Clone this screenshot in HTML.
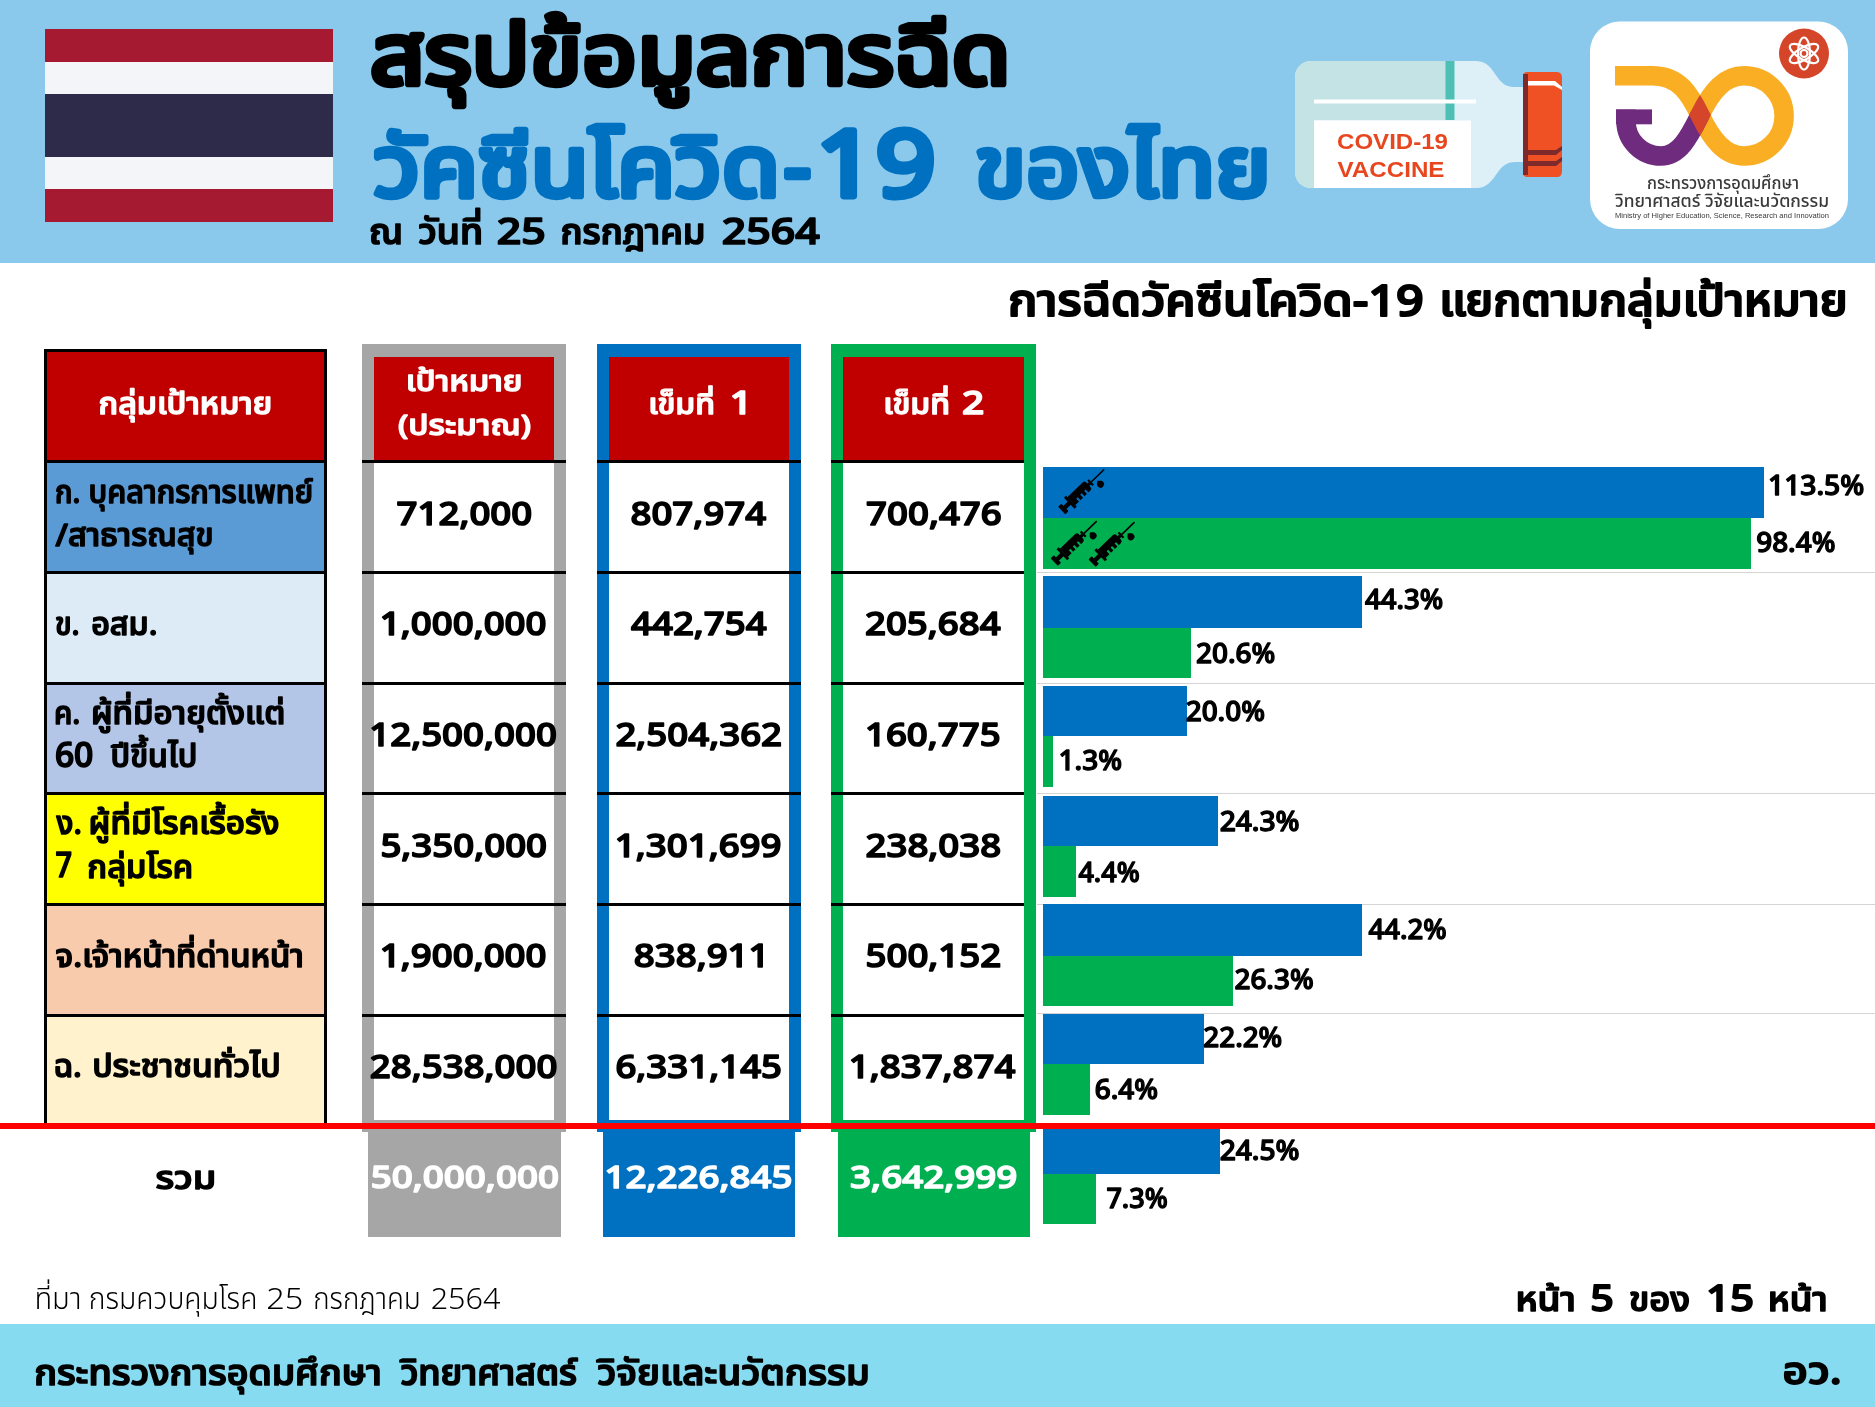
<!DOCTYPE html>
<html lang="th"><head><meta charset="utf-8"><title>สรุปข้อมูลการฉีดวัคซีนโควิด-19 ของไทย</title>
<style>
html,body{margin:0;padding:0;background:#fff}
body{width:1875px;height:1407px;position:relative;overflow:hidden;font-family:'Noto Sans Thai','Noto Sans Thai UI','Anuphan','Loma','Garuda','Liberation Sans','DejaVu Sans',sans-serif}
.b{position:absolute}
svg{will-change:transform}
.t{position:absolute;white-space:nowrap;transform-origin:0 0}
</style></head><body>
<div class="b" style="left:0;top:1324px;width:1875px;height:83px;background:#86DBF0"></div>

<div class="b" style="left:0px;top:0px;width:1875px;height:263px;background:#8AC9EC;"></div>
<div class="b" style="left:45px;top:29px;width:288px;height:32.5px;background:#A51931;"></div>
<div class="b" style="left:45px;top:61.5px;width:288px;height:32.0px;background:#F4F5F8;"></div>
<div class="b" style="left:45px;top:93.5px;width:288px;height:63.5px;background:#2D2A4A;"></div>
<div class="b" style="left:45px;top:157px;width:288px;height:32px;background:#F4F5F8;"></div>
<div class="b" style="left:45px;top:189px;width:288px;height:32.5px;background:#A51931;"></div>
<svg class="b" style="left:0;top:0" width="1875" height="263" viewBox="0 0 1875 263">
<path d="M1311 61 H1476 C1488 61 1492 70 1498 78 C1503 85 1508 87 1515 87 H1525 V162 H1515 C1508 162 1503 165 1498 172 C1492 180 1488 188 1476 188 H1311 C1302 188 1295 181 1295 172 V77 C1295 68 1302 61 1311 61 Z" fill="#DDF0F8"/>
<path d="M1311 61 H1446 V120 H1314 V188 H1311 C1302 188 1295 181 1295 172 V77 C1295 68 1302 61 1311 61 Z" fill="#C3E3E5"/>
<rect x="1445.5" y="61" width="9" height="59" fill="#4DBFB5"/>
<rect x="1314" y="99.5" width="162" height="4" fill="#fff"/>
<rect x="1314" y="120.5" width="157" height="67.5" fill="#fff"/>
<text x="1392.5" y="148.5" text-anchor="middle" font-family="'Liberation Sans',sans-serif" font-weight="700" font-size="22" fill="#E8461E" textLength="111" lengthAdjust="spacingAndGlyphs">COVID-19</text>
<text x="1391" y="176.5" text-anchor="middle" font-family="'Liberation Sans',sans-serif" font-weight="700" font-size="22" fill="#E8461E" textLength="107" lengthAdjust="spacingAndGlyphs">VACCINE</text>
<path d="M1527 72 H1557 Q1562 72 1562 78 V171 Q1562 177 1557 177 H1527 Q1523 177 1523 172 V77 Q1523 72 1527 72 Z" fill="#EF5125"/>
<rect x="1523" y="74" width="5" height="101" fill="#7F2A2A"/>
<path d="M1528 81 H1555 L1562 87 V90 L1554 85.5 H1528 Z" fill="#fff"/>
<path d="M1528 150 H1556 L1562 146 V150 L1556 155 H1528 Z" fill="#7F2A2A"/>
<path d="M1528 161 H1556 L1562 157 V161 L1556 166 H1528 Z" fill="#7F2A2A"/>
</svg>
<svg class="b" style="left:0;top:0" width="1875" height="263" viewBox="0 0 1875 263">
<rect x="1590" y="21.5" width="258" height="207.5" rx="30" fill="#fff"/>
<defs><mask id="lm" maskUnits="userSpaceOnUse" x="1590" y="20" width="260" height="210"><path d="M1652 75.8 C1680 75.8 1690 95 1700 115 C1712 140 1725 156 1744 156" fill="none" stroke="#fff" stroke-width="19.5"/></mask></defs>
<path d="M1615 75.8 H1652 C1680 75.8 1690 95 1700 115 C1712 140 1725 156 1744 156 A40.1 40.1 0 0 0 1744 75.8 C1725 75.8 1712 90 1700 115" fill="none" stroke="#F9AE24" stroke-width="19.5"/>
<path d="M1700 115 C1690 135 1680 156 1661 156 A35 35 0 0 1 1626 121 V109.4" fill="none" stroke="#6F2C7F" stroke-width="19.5"/>
<rect x="1616" y="109.4" width="36" height="14.9" fill="#6F2C7F"/>
<path d="M1744 75.8 C1725 75.8 1712 90 1700 115 C1690 135 1680 156 1661 156" fill="none" stroke="#D5452A" stroke-width="19.5" mask="url(#lm)"/>
<circle cx="1804" cy="53.5" r="25" fill="#D5452A"/>
<g fill="none" stroke="#fff" stroke-width="2.2">
<ellipse cx="1804" cy="53.5" rx="16" ry="6" transform="rotate(90 1804 53.5)"/>
<ellipse cx="1804" cy="53.5" rx="16" ry="6" transform="rotate(30 1804 53.5)"/>
<ellipse cx="1804" cy="53.5" rx="16" ry="6" transform="rotate(150 1804 53.5)"/>
<circle cx="1804" cy="53.5" r="3.5"/>
</g>
<text x="1723" y="189" text-anchor="middle" font-family="'Noto Sans Thai',sans-serif" font-weight="500" font-size="17" fill="#3a3a3a" textLength="152" lengthAdjust="spacingAndGlyphs">กระทรวงการอุดมศึกษา</text>
<text x="1722" y="206.5" text-anchor="middle" font-family="'Noto Sans Thai',sans-serif" font-weight="500" font-size="17" fill="#3a3a3a" textLength="214" lengthAdjust="spacingAndGlyphs">วิทยาศาสตร์ วิจัยและนวัตกรรม</text>
<text x="1722" y="217.5" text-anchor="middle" font-family="'Liberation Sans',sans-serif" font-size="7.5" fill="#3a3a3a" textLength="214" lengthAdjust="spacingAndGlyphs">Ministry of Higher Education, Science, Research and Innovation</text>
</svg>
<div class="b" style="left:44px;top:349px;width:283px;height:777px;background:#000;"></div>
<div class="b" style="left:47px;top:352px;width:277px;height:108px;background:#C00000;"></div>
<div class="b" style="left:47px;top:463px;width:277px;height:108px;background:#5B9BD5;"></div>
<div class="b" style="left:47px;top:574px;width:277px;height:107.5px;background:#DDEBF7;"></div>
<div class="b" style="left:47px;top:684.5px;width:277px;height:107.5px;background:#B4C6E7;"></div>
<div class="b" style="left:47px;top:795px;width:277px;height:108px;background:#FFFF00;"></div>
<div class="b" style="left:47px;top:906px;width:277px;height:107.5px;background:#F8CBAD;"></div>
<div class="b" style="left:47px;top:1016.5px;width:277px;height:109.5px;background:#FFF2CC;"></div>
<div class="b" style="left:362px;top:344px;width:204px;height:788px;background:#A6A6A6;"></div>
<div class="b" style="left:374px;top:357px;width:180px;height:763px;background:#fff;"></div>
<div class="b" style="left:374px;top:357px;width:180px;height:103px;background:#C00000;"></div>
<div class="b" style="left:362px;top:460px;width:204px;height:3px;background:#000;"></div>
<div class="b" style="left:362px;top:571px;width:204px;height:3px;background:#000;"></div>
<div class="b" style="left:362px;top:681.5px;width:204px;height:3.0px;background:#000;"></div>
<div class="b" style="left:362px;top:792px;width:204px;height:3px;background:#000;"></div>
<div class="b" style="left:362px;top:903px;width:204px;height:3px;background:#000;"></div>
<div class="b" style="left:362px;top:1013.5px;width:204px;height:3.0px;background:#000;"></div>
<div class="b" style="left:597px;top:344px;width:204px;height:788px;background:#0070C0;"></div>
<div class="b" style="left:609px;top:357px;width:180px;height:763px;background:#fff;"></div>
<div class="b" style="left:609px;top:357px;width:180px;height:103px;background:#C00000;"></div>
<div class="b" style="left:597px;top:460px;width:204px;height:3px;background:#000;"></div>
<div class="b" style="left:597px;top:571px;width:204px;height:3px;background:#000;"></div>
<div class="b" style="left:597px;top:681.5px;width:204px;height:3.0px;background:#000;"></div>
<div class="b" style="left:597px;top:792px;width:204px;height:3px;background:#000;"></div>
<div class="b" style="left:597px;top:903px;width:204px;height:3px;background:#000;"></div>
<div class="b" style="left:597px;top:1013.5px;width:204px;height:3.0px;background:#000;"></div>
<div class="b" style="left:831px;top:344px;width:205px;height:788px;background:#00B050;"></div>
<div class="b" style="left:843px;top:357px;width:181px;height:763px;background:#fff;"></div>
<div class="b" style="left:843px;top:357px;width:181px;height:103px;background:#C00000;"></div>
<div class="b" style="left:831px;top:460px;width:192.5px;height:3px;background:#000;"></div>
<div class="b" style="left:831px;top:571px;width:192.5px;height:3px;background:#000;"></div>
<div class="b" style="left:831px;top:681.5px;width:192.5px;height:3.0px;background:#000;"></div>
<div class="b" style="left:831px;top:792px;width:192.5px;height:3px;background:#000;"></div>
<div class="b" style="left:831px;top:903px;width:192.5px;height:3px;background:#000;"></div>
<div class="b" style="left:831px;top:1013.5px;width:192.5px;height:3.0px;background:#000;"></div>
<div class="b" style="left:0px;top:1123px;width:1875px;height:6px;background:#FF0000;"></div>
<div class="b" style="left:368px;top:1131px;width:193px;height:106px;background:#A6A6A6;"></div>
<div class="b" style="left:603px;top:1131px;width:192px;height:106px;background:#0070C0;"></div>
<div class="b" style="left:837.5px;top:1131px;width:192.5px;height:106px;background:#00B050;"></div>
<div class="b" style="left:1037px;top:571.5px;width:838px;height:1.2px;background:#D4D4D4;"></div>
<div class="b" style="left:1037px;top:682.5px;width:838px;height:1.2px;background:#D4D4D4;"></div>
<div class="b" style="left:1037px;top:792.5px;width:838px;height:1.2px;background:#D4D4D4;"></div>
<div class="b" style="left:1037px;top:903.5px;width:838px;height:1.2px;background:#D4D4D4;"></div>
<div class="b" style="left:1037px;top:1013.0px;width:838px;height:1.2px;background:#D4D4D4;"></div>
<div class="b" style="left:1043px;top:467px;width:721px;height:51px;background:#0070C0;"></div>
<div class="b" style="left:1043px;top:518px;width:708px;height:50.5px;background:#00B050;"></div>
<div class="b" style="left:1043px;top:576px;width:319px;height:51.5px;background:#0070C0;"></div>
<div class="b" style="left:1043px;top:627.5px;width:148px;height:50.3px;background:#00B050;"></div>
<div class="b" style="left:1043px;top:686px;width:144px;height:50.4px;background:#0070C0;"></div>
<div class="b" style="left:1043px;top:736.4px;width:9.7px;height:50.6px;background:#00B050;"></div>
<div class="b" style="left:1043px;top:795.6px;width:175.4px;height:50.0px;background:#0070C0;"></div>
<div class="b" style="left:1043px;top:845.6px;width:32.6px;height:51.2px;background:#00B050;"></div>
<div class="b" style="left:1043px;top:904.3px;width:318.6px;height:51.4px;background:#0070C0;"></div>
<div class="b" style="left:1043px;top:955.7px;width:189.8px;height:50.0px;background:#00B050;"></div>
<div class="b" style="left:1043px;top:1014px;width:160.5px;height:50.3px;background:#0070C0;"></div>
<div class="b" style="left:1043px;top:1064.3px;width:46.6px;height:50.4px;background:#00B050;"></div>
<div class="b" style="left:1043px;top:1128.7px;width:176.8px;height:45.3px;background:#0070C0;"></div>
<div class="b" style="left:1043px;top:1174px;width:53px;height:50.4px;background:#00B050;"></div>
<svg class="b" style="left:0;top:0" width="1875" height="600" viewBox="0 0 1875 600"><g fill="#000"><g transform="translate(1082.9 490) rotate(-44)">
<rect x="-29.5" y="-5.2" width="4.5" height="10.4" rx="0.8"/>
<rect x="-25.5" y="-2.2" width="7" height="4.4"/>
<rect x="-19" y="-7.6" width="3" height="15.2"/>
<path d="M-16.2 -5.6 H5 Q7.6 -5.6 7.6 -3 V3 Q7.6 5.6 5 5.6 H-16.2 Z"/>
<rect x="-10.8" y="1.6" width="2.1" height="4.5" fill="#0070C0"/>
<rect x="-5.3" y="1.6" width="2.1" height="4.5" fill="#0070C0"/>
<rect x="0.2" y="1.6" width="2.1" height="4.5" fill="#0070C0"/>
<rect x="7" y="-1.6" width="3" height="3.2"/>
<rect x="9.6" y="-3.6" width="2.2" height="7.2"/>
<rect x="11.5" y="-0.8" width="18" height="1.6"/>
<path d="M16.7 3.4 C18.2 4.9 20.3 6.1 20.3 7.9 A3.6 3.6 0 0 1 13.1 7.9 C13.1 6.1 15.2 4.9 16.7 3.4 Z"/>
</g><g transform="translate(1075.5 541.6) rotate(-44)">
<rect x="-29.5" y="-5.2" width="4.5" height="10.4" rx="0.8"/>
<rect x="-25.5" y="-2.2" width="7" height="4.4"/>
<rect x="-19" y="-7.6" width="3" height="15.2"/>
<path d="M-16.2 -5.6 H5 Q7.6 -5.6 7.6 -3 V3 Q7.6 5.6 5 5.6 H-16.2 Z"/>
<rect x="-10.8" y="1.6" width="2.1" height="4.5" fill="#00B050"/>
<rect x="-5.3" y="1.6" width="2.1" height="4.5" fill="#00B050"/>
<rect x="0.2" y="1.6" width="2.1" height="4.5" fill="#00B050"/>
<rect x="7" y="-1.6" width="3" height="3.2"/>
<rect x="9.6" y="-3.6" width="2.2" height="7.2"/>
<rect x="11.5" y="-0.8" width="18" height="1.6"/>
<path d="M16.7 3.4 C18.2 4.9 20.3 6.1 20.3 7.9 A3.6 3.6 0 0 1 13.1 7.9 C13.1 6.1 15.2 4.9 16.7 3.4 Z"/>
</g><g transform="translate(1113.3 542.6) rotate(-44)">
<rect x="-29.5" y="-5.2" width="4.5" height="10.4" rx="0.8"/>
<rect x="-25.5" y="-2.2" width="7" height="4.4"/>
<rect x="-19" y="-7.6" width="3" height="15.2"/>
<path d="M-16.2 -5.6 H5 Q7.6 -5.6 7.6 -3 V3 Q7.6 5.6 5 5.6 H-16.2 Z"/>
<rect x="-10.8" y="1.6" width="2.1" height="4.5" fill="#00B050"/>
<rect x="-5.3" y="1.6" width="2.1" height="4.5" fill="#00B050"/>
<rect x="0.2" y="1.6" width="2.1" height="4.5" fill="#00B050"/>
<rect x="7" y="-1.6" width="3" height="3.2"/>
<rect x="9.6" y="-3.6" width="2.2" height="7.2"/>
<rect x="11.5" y="-0.8" width="18" height="1.6"/>
<path d="M16.7 3.4 C18.2 4.9 20.3 6.1 20.3 7.9 A3.6 3.6 0 0 1 13.1 7.9 C13.1 6.1 15.2 4.9 16.7 3.4 Z"/>
</g></g></svg>
<svg class="b" style="left:0;top:0;will-change:transform" width="1875" height="1407" viewBox="0 0 1875 1407">
<text x="370.05" y="84.07000000000001" font-family="'Noto Sans Thai','Noto Sans Thai UI','Anuphan','Loma','Garuda','Liberation Sans','DejaVu Sans',sans-serif" font-weight="400" font-size="83.32" fill="#000" stroke="#000" stroke-width="6.26" stroke-linejoin="round" textLength="640.5" lengthAdjust="spacingAndGlyphs">สรุปข้อมูลการฉีด</text>
<text x="373.4" y="196.35" font-family="'Noto Sans Thai','Noto Sans Thai UI','Anuphan','Loma','Garuda','Liberation Sans','DejaVu Sans',sans-serif" font-weight="400" font-size="83.76" fill="#0070C0" stroke="#0070C0" stroke-width="6.29" stroke-linejoin="round" textLength="406.6" lengthAdjust="spacingAndGlyphs">วัคซีนโควิด</text>
<text x="783.7" y="196.35" font-family="'Noto Sans Thai','Noto Sans Thai UI','Anuphan','Loma','Garuda','Liberation Sans','DejaVu Sans',sans-serif" font-weight="400" font-size="83.76" fill="#0070C0" stroke="#0070C0" stroke-width="6.29" stroke-linejoin="round" textLength="27.37" lengthAdjust="spacingAndGlyphs">-</text>
<text x="815.93" y="196.09" font-family="'Noto Sans Thai','Noto Sans Thai UI','Anuphan','Loma','Garuda','Liberation Sans','DejaVu Sans',sans-serif" font-weight="400" font-size="90.69" fill="#0070C0" stroke="#0070C0" stroke-width="6.81" stroke-linejoin="round" textLength="119.79" lengthAdjust="spacingAndGlyphs">19</text>
<text x="974.88" y="196.35" font-family="'Noto Sans Thai','Noto Sans Thai UI','Anuphan','Loma','Garuda','Liberation Sans','DejaVu Sans',sans-serif" font-weight="400" font-size="83.76" fill="#0070C0" stroke="#0070C0" stroke-width="6.29" stroke-linejoin="round" textLength="295.77" lengthAdjust="spacingAndGlyphs">ของไทย</text>
<text x="369.14" y="243.56" font-family="'Noto Sans Thai','Noto Sans Thai UI','Anuphan','Loma','Garuda','Liberation Sans','DejaVu Sans',sans-serif" font-weight="500" font-size="34.99" fill="#000" stroke="#000" stroke-width="1.68" stroke-linejoin="round" textLength="34.09" lengthAdjust="spacingAndGlyphs">ณ</text>
<text x="418.2" y="243.56" font-family="'Noto Sans Thai','Noto Sans Thai UI','Anuphan','Loma','Garuda','Liberation Sans','DejaVu Sans',sans-serif" font-weight="500" font-size="34.99" fill="#000" stroke="#000" stroke-width="1.68" stroke-linejoin="round" textLength="64.8" lengthAdjust="spacingAndGlyphs">วันที่</text>
<text x="496.7" y="243.54" font-family="'Noto Sans Thai','Noto Sans Thai UI','Anuphan','Loma','Garuda','Liberation Sans','DejaVu Sans',sans-serif" font-weight="500" font-size="35.68" fill="#000" stroke="#000" stroke-width="1.72" stroke-linejoin="round" textLength="48.98" lengthAdjust="spacingAndGlyphs">25</text>
<text x="560.56" y="243.56" font-family="'Noto Sans Thai','Noto Sans Thai UI','Anuphan','Loma','Garuda','Liberation Sans','DejaVu Sans',sans-serif" font-weight="500" font-size="34.99" fill="#000" stroke="#000" stroke-width="1.68" stroke-linejoin="round" textLength="144.92" lengthAdjust="spacingAndGlyphs">กรกฎาคม</text>
<text x="721.8" y="243.54" font-family="'Noto Sans Thai','Noto Sans Thai UI','Anuphan','Loma','Garuda','Liberation Sans','DejaVu Sans',sans-serif" font-weight="500" font-size="35.68" fill="#000" stroke="#000" stroke-width="1.72" stroke-linejoin="round" textLength="97.95" lengthAdjust="spacingAndGlyphs">2564</text>
<text x="1007.91" y="316.44" font-family="'Noto Sans Thai','Noto Sans Thai UI','Anuphan','Loma','Garuda','Liberation Sans','DejaVu Sans',sans-serif" font-weight="500" font-size="44.2" fill="#000" stroke="#000" stroke-width="2.13" stroke-linejoin="round" textLength="415.83" lengthAdjust="spacingAndGlyphs">การฉีดวัคซีนโควิด-19</text>
<text x="1439.26" y="316.44" font-family="'Noto Sans Thai','Noto Sans Thai UI','Anuphan','Loma','Garuda','Liberation Sans','DejaVu Sans',sans-serif" font-weight="500" font-size="44.2" fill="#000" stroke="#000" stroke-width="2.13" stroke-linejoin="round" textLength="408.34" lengthAdjust="spacingAndGlyphs">แยกตามกลุ่มเป้าหมาย</text>
<text x="98.54" y="414.07" font-family="'Noto Sans Thai','Noto Sans Thai UI','Anuphan','Loma','Garuda','Liberation Sans','DejaVu Sans',sans-serif" font-weight="500" font-size="30.39" fill="#fff" stroke="#fff" stroke-width="1.46" stroke-linejoin="round" textLength="173.59" lengthAdjust="spacingAndGlyphs">กลุ่มเป้าหมาย</text>
<text x="405.81" y="391.21" font-family="'Noto Sans Thai','Noto Sans Thai UI','Anuphan','Loma','Garuda','Liberation Sans','DejaVu Sans',sans-serif" font-weight="500" font-size="28.55" fill="#fff" stroke="#fff" stroke-width="1.37" stroke-linejoin="round" textLength="116.74" lengthAdjust="spacingAndGlyphs">เป้าหมาย</text>
<text x="398.1" y="434.53999999999996" font-family="'Noto Sans Thai','Noto Sans Thai UI','Anuphan','Loma','Garuda','Liberation Sans','DejaVu Sans',sans-serif" font-weight="500" font-size="27.63" fill="#fff" stroke="#fff" stroke-width="1.33" stroke-linejoin="round" textLength="132.94" lengthAdjust="spacingAndGlyphs">(ประมาณ)</text>
<text x="648.19" y="414.14" font-family="'Noto Sans Thai','Noto Sans Thai UI','Anuphan','Loma','Garuda','Liberation Sans','DejaVu Sans',sans-serif" font-weight="500" font-size="27.63" fill="#fff" stroke="#fff" stroke-width="1.33" stroke-linejoin="round" textLength="66.77" lengthAdjust="spacingAndGlyphs">เข็มที่</text>
<text x="729.8" y="414.01" font-family="'Noto Sans Thai','Noto Sans Thai UI','Anuphan','Loma','Garuda','Liberation Sans','DejaVu Sans',sans-serif" font-weight="500" font-size="32.86" fill="#fff" stroke="#fff" stroke-width="1.58" stroke-linejoin="round" textLength="22.56" lengthAdjust="spacingAndGlyphs">1</text>
<text x="883.19" y="414.14" font-family="'Noto Sans Thai','Noto Sans Thai UI','Anuphan','Loma','Garuda','Liberation Sans','DejaVu Sans',sans-serif" font-weight="500" font-size="27.63" fill="#fff" stroke="#fff" stroke-width="1.33" stroke-linejoin="round" textLength="66.77" lengthAdjust="spacingAndGlyphs">เข็มที่</text>
<text x="961.92" y="414.01" font-family="'Noto Sans Thai','Noto Sans Thai UI','Anuphan','Loma','Garuda','Liberation Sans','DejaVu Sans',sans-serif" font-weight="500" font-size="32.86" fill="#fff" stroke="#fff" stroke-width="1.58" stroke-linejoin="round" textLength="22.22" lengthAdjust="spacingAndGlyphs">2</text>
<text x="55.08" y="503.25" font-family="'Noto Sans Thai','Noto Sans Thai UI','Anuphan','Loma','Garuda','Liberation Sans','DejaVu Sans',sans-serif" font-weight="500" font-size="31.31" fill="#000" stroke="#000" stroke-width="1.51" stroke-linejoin="round" textLength="25.34" lengthAdjust="spacingAndGlyphs">ก.</text>
<text x="88.55" y="503.25" font-family="'Noto Sans Thai','Noto Sans Thai UI','Anuphan','Loma','Garuda','Liberation Sans','DejaVu Sans',sans-serif" font-weight="500" font-size="31.31" fill="#000" stroke="#000" stroke-width="1.51" stroke-linejoin="round" textLength="224.51" lengthAdjust="spacingAndGlyphs">บุคลากรการแพทย์</text>
<text x="55.6" y="545.85" font-family="'Noto Sans Thai','Noto Sans Thai UI','Anuphan','Loma','Garuda','Liberation Sans','DejaVu Sans',sans-serif" font-weight="500" font-size="31.31" fill="#000" stroke="#000" stroke-width="1.51" stroke-linejoin="round" textLength="157.94" lengthAdjust="spacingAndGlyphs">/สาธารณสุข</text>
<text x="54.95" y="635.05" font-family="'Noto Sans Thai','Noto Sans Thai UI','Anuphan','Loma','Garuda','Liberation Sans','DejaVu Sans',sans-serif" font-weight="500" font-size="31.31" fill="#000" stroke="#000" stroke-width="1.51" stroke-linejoin="round" textLength="24.67" lengthAdjust="spacingAndGlyphs">ข.</text>
<text x="91.17" y="635.05" font-family="'Noto Sans Thai','Noto Sans Thai UI','Anuphan','Loma','Garuda','Liberation Sans','DejaVu Sans',sans-serif" font-weight="500" font-size="31.31" fill="#000" stroke="#000" stroke-width="1.51" stroke-linejoin="round" textLength="66.36" lengthAdjust="spacingAndGlyphs">อสม.</text>
<text x="54.02" y="723.75" font-family="'Noto Sans Thai','Noto Sans Thai UI','Anuphan','Loma','Garuda','Liberation Sans','DejaVu Sans',sans-serif" font-weight="500" font-size="31.31" fill="#000" stroke="#000" stroke-width="1.51" stroke-linejoin="round" textLength="26.36" lengthAdjust="spacingAndGlyphs">ค.</text>
<text x="90.9" y="723.75" font-family="'Noto Sans Thai','Noto Sans Thai UI','Anuphan','Loma','Garuda','Liberation Sans','DejaVu Sans',sans-serif" font-weight="500" font-size="31.31" fill="#000" stroke="#000" stroke-width="1.51" stroke-linejoin="round" textLength="194.34" lengthAdjust="spacingAndGlyphs">ผู้ที่มีอายุตั้งแต่</text>
<text x="54.9" y="766.8900000000001" font-family="'Noto Sans Thai','Noto Sans Thai UI','Anuphan','Loma','Garuda','Liberation Sans','DejaVu Sans',sans-serif" font-weight="500" font-size="33.52" fill="#000" stroke="#000" stroke-width="1.61" stroke-linejoin="round" textLength="38.45" lengthAdjust="spacingAndGlyphs">60</text>
<text x="110.6" y="766.95" font-family="'Noto Sans Thai','Noto Sans Thai UI','Anuphan','Loma','Garuda','Liberation Sans','DejaVu Sans',sans-serif" font-weight="500" font-size="31.31" fill="#000" stroke="#000" stroke-width="1.51" stroke-linejoin="round" textLength="86.82" lengthAdjust="spacingAndGlyphs">ปีขึ้นไป</text>
<text x="56.58" y="834.15" font-family="'Noto Sans Thai','Noto Sans Thai UI','Anuphan','Loma','Garuda','Liberation Sans','DejaVu Sans',sans-serif" font-weight="500" font-size="31.31" fill="#000" stroke="#000" stroke-width="1.51" stroke-linejoin="round" textLength="25.26" lengthAdjust="spacingAndGlyphs">ง.</text>
<text x="88.58" y="834.15" font-family="'Noto Sans Thai','Noto Sans Thai UI','Anuphan','Loma','Garuda','Liberation Sans','DejaVu Sans',sans-serif" font-weight="500" font-size="31.31" fill="#000" stroke="#000" stroke-width="1.51" stroke-linejoin="round" textLength="190.96" lengthAdjust="spacingAndGlyphs">ผู้ที่มีโรคเรื้อรัง</text>
<text x="55.6" y="877.49" font-family="'Noto Sans Thai','Noto Sans Thai UI','Anuphan','Loma','Garuda','Liberation Sans','DejaVu Sans',sans-serif" font-weight="500" font-size="33.52" fill="#000" stroke="#000" stroke-width="1.61" stroke-linejoin="round" textLength="16.55" lengthAdjust="spacingAndGlyphs">7</text>
<text x="87.36" y="877.55" font-family="'Noto Sans Thai','Noto Sans Thai UI','Anuphan','Loma','Garuda','Liberation Sans','DejaVu Sans',sans-serif" font-weight="500" font-size="31.31" fill="#000" stroke="#000" stroke-width="1.51" stroke-linejoin="round" textLength="105.74" lengthAdjust="spacingAndGlyphs">กลุ่มโรค</text>
<text x="55.6" y="966.65" font-family="'Noto Sans Thai','Noto Sans Thai UI','Anuphan','Loma','Garuda','Liberation Sans','DejaVu Sans',sans-serif" font-weight="500" font-size="31.31" fill="#000" stroke="#000" stroke-width="1.51" stroke-linejoin="round" textLength="248.32" lengthAdjust="spacingAndGlyphs">จ.เจ้าหน้าที่ด่านหน้า</text>
<text x="53.55" y="1076.95" font-family="'Noto Sans Thai','Noto Sans Thai UI','Anuphan','Loma','Garuda','Liberation Sans','DejaVu Sans',sans-serif" font-weight="500" font-size="31.31" fill="#000" stroke="#000" stroke-width="1.51" stroke-linejoin="round" textLength="28.33" lengthAdjust="spacingAndGlyphs">ฉ.</text>
<text x="92.17" y="1076.95" font-family="'Noto Sans Thai','Noto Sans Thai UI','Anuphan','Loma','Garuda','Liberation Sans','DejaVu Sans',sans-serif" font-weight="500" font-size="31.31" fill="#000" stroke="#000" stroke-width="1.51" stroke-linejoin="round" textLength="188.63" lengthAdjust="spacingAndGlyphs">ประชาชนทั่วไป</text>
<text x="155.4" y="1188.85" font-family="'Noto Sans Thai','Noto Sans Thai UI','Anuphan','Loma','Garuda','Liberation Sans','DejaVu Sans',sans-serif" font-weight="500" font-size="31.31" fill="#000" stroke="#000" stroke-width="1.51" stroke-linejoin="round" textLength="60.77" lengthAdjust="spacingAndGlyphs">รวม</text>
<text x="1767.99" y="494.76" font-family="'Noto Sans Thai','Noto Sans Thai UI','Anuphan','Loma','Garuda','Liberation Sans','DejaVu Sans',sans-serif" font-weight="500" font-size="26.76" fill="#000" stroke="#000" stroke-width="1.29" stroke-linejoin="round" textLength="96.34" lengthAdjust="spacingAndGlyphs">113.5%</text>
<text x="1756.26" y="551.5600000000001" font-family="'Noto Sans Thai','Noto Sans Thai UI','Anuphan','Loma','Garuda','Liberation Sans','DejaVu Sans',sans-serif" font-weight="500" font-size="26.76" fill="#000" stroke="#000" stroke-width="1.29" stroke-linejoin="round" textLength="79.14" lengthAdjust="spacingAndGlyphs">98.4%</text>
<text x="1365.0" y="609.26" font-family="'Noto Sans Thai','Noto Sans Thai UI','Anuphan','Loma','Garuda','Liberation Sans','DejaVu Sans',sans-serif" font-weight="500" font-size="26.76" fill="#000" stroke="#000" stroke-width="1.29" stroke-linejoin="round" textLength="78.2" lengthAdjust="spacingAndGlyphs">44.3%</text>
<text x="1195.96" y="662.96" font-family="'Noto Sans Thai','Noto Sans Thai UI','Anuphan','Loma','Garuda','Liberation Sans','DejaVu Sans',sans-serif" font-weight="500" font-size="26.76" fill="#000" stroke="#000" stroke-width="1.29" stroke-linejoin="round" textLength="79.34" lengthAdjust="spacingAndGlyphs">20.6%</text>
<text x="1185.66" y="721.36" font-family="'Noto Sans Thai','Noto Sans Thai UI','Anuphan','Loma','Garuda','Liberation Sans','DejaVu Sans',sans-serif" font-weight="500" font-size="26.76" fill="#000" stroke="#000" stroke-width="1.29" stroke-linejoin="round" textLength="79.34" lengthAdjust="spacingAndGlyphs">20.0%</text>
<text x="1058.61" y="770.36" font-family="'Noto Sans Thai','Noto Sans Thai UI','Anuphan','Loma','Garuda','Liberation Sans','DejaVu Sans',sans-serif" font-weight="500" font-size="26.76" fill="#000" stroke="#000" stroke-width="1.29" stroke-linejoin="round" textLength="63.42" lengthAdjust="spacingAndGlyphs">1.3%</text>
<text x="1219.65" y="830.96" font-family="'Noto Sans Thai','Noto Sans Thai UI','Anuphan','Loma','Garuda','Liberation Sans','DejaVu Sans',sans-serif" font-weight="500" font-size="26.76" fill="#000" stroke="#000" stroke-width="1.29" stroke-linejoin="round" textLength="79.95" lengthAdjust="spacingAndGlyphs">24.3%</text>
<text x="1078.4" y="882.36" font-family="'Noto Sans Thai','Noto Sans Thai UI','Anuphan','Loma','Garuda','Liberation Sans','DejaVu Sans',sans-serif" font-weight="500" font-size="26.76" fill="#000" stroke="#000" stroke-width="1.29" stroke-linejoin="round" textLength="61.31" lengthAdjust="spacingAndGlyphs">4.4%</text>
<text x="1368.6" y="939.0600000000001" font-family="'Noto Sans Thai','Noto Sans Thai UI','Anuphan','Loma','Garuda','Liberation Sans','DejaVu Sans',sans-serif" font-weight="500" font-size="26.76" fill="#000" stroke="#000" stroke-width="1.29" stroke-linejoin="round" textLength="78.0" lengthAdjust="spacingAndGlyphs">44.2%</text>
<text x="1234.56" y="989.0600000000001" font-family="'Noto Sans Thai','Noto Sans Thai UI','Anuphan','Loma','Garuda','Liberation Sans','DejaVu Sans',sans-serif" font-weight="500" font-size="26.76" fill="#000" stroke="#000" stroke-width="1.29" stroke-linejoin="round" textLength="79.04" lengthAdjust="spacingAndGlyphs">26.3%</text>
<text x="1203.36" y="1047.36" font-family="'Noto Sans Thai','Noto Sans Thai UI','Anuphan','Loma','Garuda','Liberation Sans','DejaVu Sans',sans-serif" font-weight="500" font-size="26.76" fill="#000" stroke="#000" stroke-width="1.29" stroke-linejoin="round" textLength="78.94" lengthAdjust="spacingAndGlyphs">22.2%</text>
<text x="1094.66" y="1098.6599999999999" font-family="'Noto Sans Thai','Noto Sans Thai UI','Anuphan','Loma','Garuda','Liberation Sans','DejaVu Sans',sans-serif" font-weight="500" font-size="26.76" fill="#000" stroke="#000" stroke-width="1.29" stroke-linejoin="round" textLength="63.38" lengthAdjust="spacingAndGlyphs">6.4%</text>
<text x="1219.65" y="1160.36" font-family="'Noto Sans Thai','Noto Sans Thai UI','Anuphan','Loma','Garuda','Liberation Sans','DejaVu Sans',sans-serif" font-weight="500" font-size="26.76" fill="#000" stroke="#000" stroke-width="1.29" stroke-linejoin="round" textLength="79.95" lengthAdjust="spacingAndGlyphs">24.5%</text>
<text x="1106.4" y="1208.36" font-family="'Noto Sans Thai','Noto Sans Thai UI','Anuphan','Loma','Garuda','Liberation Sans','DejaVu Sans',sans-serif" font-weight="500" font-size="26.76" fill="#000" stroke="#000" stroke-width="1.29" stroke-linejoin="round" textLength="61.31" lengthAdjust="spacingAndGlyphs">7.3%</text>
<text x="34.4" y="1309" font-family="'Noto Sans Thai','Noto Sans Thai UI','Anuphan','Loma','Garuda','Liberation Sans','DejaVu Sans',sans-serif" font-weight="300" font-size="30" fill="#000" textLength="47.16" lengthAdjust="spacingAndGlyphs">ที่มา</text>
<text x="88.81" y="1309" font-family="'Noto Sans Thai','Noto Sans Thai UI','Anuphan','Loma','Garuda','Liberation Sans','DejaVu Sans',sans-serif" font-weight="300" font-size="30" fill="#000" textLength="168.62" lengthAdjust="spacingAndGlyphs">กรมควบคุมโรค</text>
<text x="266.24" y="1309" font-family="'Noto Sans Thai','Noto Sans Thai UI','Anuphan','Loma','Garuda','Liberation Sans','DejaVu Sans',sans-serif" font-weight="300" font-size="30" fill="#000" textLength="37.03" lengthAdjust="spacingAndGlyphs">25</text>
<text x="313.25" y="1309" font-family="'Noto Sans Thai','Noto Sans Thai UI','Anuphan','Loma','Garuda','Liberation Sans','DejaVu Sans',sans-serif" font-weight="300" font-size="30" fill="#000" textLength="107.53" lengthAdjust="spacingAndGlyphs">กรกฎาคม</text>
<text x="430.66" y="1309" font-family="'Noto Sans Thai','Noto Sans Thai UI','Anuphan','Loma','Garuda','Liberation Sans','DejaVu Sans',sans-serif" font-weight="300" font-size="30" fill="#000" textLength="69.78" lengthAdjust="spacingAndGlyphs">2564</text>
<text x="1515.53" y="1310.5800000000002" font-family="'Noto Sans Thai','Noto Sans Thai UI','Anuphan','Loma','Garuda','Liberation Sans','DejaVu Sans',sans-serif" font-weight="500" font-size="34.07" fill="#000" stroke="#000" stroke-width="1.64" stroke-linejoin="round" textLength="60.31" lengthAdjust="spacingAndGlyphs">หน้า</text>
<text x="1590.17" y="1310.52" font-family="'Noto Sans Thai','Noto Sans Thai UI','Anuphan','Loma','Garuda','Liberation Sans','DejaVu Sans',sans-serif" font-weight="500" font-size="36.62" fill="#000" stroke="#000" stroke-width="1.76" stroke-linejoin="round" textLength="23.6" lengthAdjust="spacingAndGlyphs">5</text>
<text x="1628.94" y="1310.5800000000002" font-family="'Noto Sans Thai','Noto Sans Thai UI','Anuphan','Loma','Garuda','Liberation Sans','DejaVu Sans',sans-serif" font-weight="500" font-size="34.07" fill="#000" stroke="#000" stroke-width="1.64" stroke-linejoin="round" textLength="61.06" lengthAdjust="spacingAndGlyphs">ของ</text>
<text x="1706.0" y="1310.52" font-family="'Noto Sans Thai','Noto Sans Thai UI','Anuphan','Loma','Garuda','Liberation Sans','DejaVu Sans',sans-serif" font-weight="500" font-size="36.62" fill="#000" stroke="#000" stroke-width="1.76" stroke-linejoin="round" textLength="48.23" lengthAdjust="spacingAndGlyphs">15</text>
<text x="1767.85" y="1310.5800000000002" font-family="'Noto Sans Thai','Noto Sans Thai UI','Anuphan','Loma','Garuda','Liberation Sans','DejaVu Sans',sans-serif" font-weight="500" font-size="34.07" fill="#000" stroke="#000" stroke-width="1.64" stroke-linejoin="round" textLength="59.77" lengthAdjust="spacingAndGlyphs">หน้า</text>
<text x="34.15" y="1384.74" font-family="'Noto Sans Thai','Noto Sans Thai UI','Anuphan','Loma','Garuda','Liberation Sans','DejaVu Sans',sans-serif" font-weight="500" font-size="35.91" fill="#000" stroke="#000" stroke-width="1.73" stroke-linejoin="round" textLength="347.65" lengthAdjust="spacingAndGlyphs">กระทรวงการอุดมศึกษา</text>
<text x="400.4" y="1384.74" font-family="'Noto Sans Thai','Noto Sans Thai UI','Anuphan','Loma','Garuda','Liberation Sans','DejaVu Sans',sans-serif" font-weight="500" font-size="35.91" fill="#000" stroke="#000" stroke-width="1.73" stroke-linejoin="round" textLength="176.62" lengthAdjust="spacingAndGlyphs">วิทยาศาสตร์</text>
<text x="597.26" y="1384.74" font-family="'Noto Sans Thai','Noto Sans Thai UI','Anuphan','Loma','Garuda','Liberation Sans','DejaVu Sans',sans-serif" font-weight="500" font-size="35.91" fill="#000" stroke="#000" stroke-width="1.73" stroke-linejoin="round" textLength="272.51" lengthAdjust="spacingAndGlyphs">วิจัยและนวัตกรรม</text>
<text x="1782.64" y="1383.99" font-family="'Noto Sans Thai','Noto Sans Thai UI','Anuphan','Loma','Garuda','Liberation Sans','DejaVu Sans',sans-serif" font-weight="500" font-size="37.76" fill="#000" stroke="#000" stroke-width="1.82" stroke-linejoin="round" textLength="59.14" lengthAdjust="spacingAndGlyphs">อว.</text>
<text x="396.58" y="524.71" font-family="'Noto Sans Thai','Noto Sans Thai UI','Anuphan','Loma','Garuda','Liberation Sans','DejaVu Sans',sans-serif" font-weight="500" font-size="32.86" fill="#000" stroke="#000" stroke-width="1.58" stroke-linejoin="round" textLength="135.69" lengthAdjust="spacingAndGlyphs">712,000</text>
<text x="630.46" y="524.71" font-family="'Noto Sans Thai','Noto Sans Thai UI','Anuphan','Loma','Garuda','Liberation Sans','DejaVu Sans',sans-serif" font-weight="500" font-size="32.86" fill="#000" stroke="#000" stroke-width="1.58" stroke-linejoin="round" textLength="135.69" lengthAdjust="spacingAndGlyphs">807,974</text>
<text x="866.08" y="524.71" font-family="'Noto Sans Thai','Noto Sans Thai UI','Anuphan','Loma','Garuda','Liberation Sans','DejaVu Sans',sans-serif" font-weight="500" font-size="32.86" fill="#000" stroke="#000" stroke-width="1.58" stroke-linejoin="round" textLength="135.69" lengthAdjust="spacingAndGlyphs">700,476</text>
<text x="379.86" y="635.37" font-family="'Noto Sans Thai','Noto Sans Thai UI','Anuphan','Loma','Garuda','Liberation Sans','DejaVu Sans',sans-serif" font-weight="500" font-size="32.86" fill="#000" stroke="#000" stroke-width="1.58" stroke-linejoin="round" textLength="166.63" lengthAdjust="spacingAndGlyphs">1,000,000</text>
<text x="631.02" y="635.37" font-family="'Noto Sans Thai','Noto Sans Thai UI','Anuphan','Loma','Garuda','Liberation Sans','DejaVu Sans',sans-serif" font-weight="500" font-size="32.86" fill="#000" stroke="#000" stroke-width="1.58" stroke-linejoin="round" textLength="135.69" lengthAdjust="spacingAndGlyphs">442,754</text>
<text x="864.96" y="635.37" font-family="'Noto Sans Thai','Noto Sans Thai UI','Anuphan','Loma','Garuda','Liberation Sans','DejaVu Sans',sans-serif" font-weight="500" font-size="32.86" fill="#000" stroke="#000" stroke-width="1.58" stroke-linejoin="round" textLength="135.69" lengthAdjust="spacingAndGlyphs">205,684</text>
<text x="369.27" y="746.03" font-family="'Noto Sans Thai','Noto Sans Thai UI','Anuphan','Loma','Garuda','Liberation Sans','DejaVu Sans',sans-serif" font-weight="500" font-size="32.86" fill="#000" stroke="#000" stroke-width="1.58" stroke-linejoin="round" textLength="187.58" lengthAdjust="spacingAndGlyphs">12,500,000</text>
<text x="615.42" y="746.03" font-family="'Noto Sans Thai','Noto Sans Thai UI','Anuphan','Loma','Garuda','Liberation Sans','DejaVu Sans',sans-serif" font-weight="500" font-size="32.86" fill="#000" stroke="#000" stroke-width="1.58" stroke-linejoin="round" textLength="166.63" lengthAdjust="spacingAndGlyphs">2,504,362</text>
<text x="864.96" y="746.03" font-family="'Noto Sans Thai','Noto Sans Thai UI','Anuphan','Loma','Garuda','Liberation Sans','DejaVu Sans',sans-serif" font-weight="500" font-size="32.86" fill="#000" stroke="#000" stroke-width="1.58" stroke-linejoin="round" textLength="135.69" lengthAdjust="spacingAndGlyphs">160,775</text>
<text x="380.42" y="856.69" font-family="'Noto Sans Thai','Noto Sans Thai UI','Anuphan','Loma','Garuda','Liberation Sans','DejaVu Sans',sans-serif" font-weight="500" font-size="32.86" fill="#000" stroke="#000" stroke-width="1.58" stroke-linejoin="round" textLength="166.63" lengthAdjust="spacingAndGlyphs">5,350,000</text>
<text x="614.86" y="856.69" font-family="'Noto Sans Thai','Noto Sans Thai UI','Anuphan','Loma','Garuda','Liberation Sans','DejaVu Sans',sans-serif" font-weight="500" font-size="32.86" fill="#000" stroke="#000" stroke-width="1.58" stroke-linejoin="round" textLength="166.63" lengthAdjust="spacingAndGlyphs">1,301,699</text>
<text x="865.52" y="856.69" font-family="'Noto Sans Thai','Noto Sans Thai UI','Anuphan','Loma','Garuda','Liberation Sans','DejaVu Sans',sans-serif" font-weight="500" font-size="32.86" fill="#000" stroke="#000" stroke-width="1.58" stroke-linejoin="round" textLength="135.69" lengthAdjust="spacingAndGlyphs">238,038</text>
<text x="379.86" y="967.35" font-family="'Noto Sans Thai','Noto Sans Thai UI','Anuphan','Loma','Garuda','Liberation Sans','DejaVu Sans',sans-serif" font-weight="500" font-size="32.86" fill="#000" stroke="#000" stroke-width="1.58" stroke-linejoin="round" textLength="166.63" lengthAdjust="spacingAndGlyphs">1,900,000</text>
<text x="633.8" y="967.35" font-family="'Noto Sans Thai','Noto Sans Thai UI','Anuphan','Loma','Garuda','Liberation Sans','DejaVu Sans',sans-serif" font-weight="500" font-size="32.86" fill="#000" stroke="#000" stroke-width="1.58" stroke-linejoin="round" textLength="135.69" lengthAdjust="spacingAndGlyphs">838,911</text>
<text x="865.52" y="967.35" font-family="'Noto Sans Thai','Noto Sans Thai UI','Anuphan','Loma','Garuda','Liberation Sans','DejaVu Sans',sans-serif" font-weight="500" font-size="32.86" fill="#000" stroke="#000" stroke-width="1.58" stroke-linejoin="round" textLength="135.69" lengthAdjust="spacingAndGlyphs">500,152</text>
<text x="369.83" y="1078.01" font-family="'Noto Sans Thai','Noto Sans Thai UI','Anuphan','Loma','Garuda','Liberation Sans','DejaVu Sans',sans-serif" font-weight="500" font-size="32.86" fill="#000" stroke="#000" stroke-width="1.58" stroke-linejoin="round" textLength="187.58" lengthAdjust="spacingAndGlyphs">28,538,000</text>
<text x="615.42" y="1078.01" font-family="'Noto Sans Thai','Noto Sans Thai UI','Anuphan','Loma','Garuda','Liberation Sans','DejaVu Sans',sans-serif" font-weight="500" font-size="32.86" fill="#000" stroke="#000" stroke-width="1.58" stroke-linejoin="round" textLength="166.63" lengthAdjust="spacingAndGlyphs">6,331,145</text>
<text x="848.8" y="1078.01" font-family="'Noto Sans Thai','Noto Sans Thai UI','Anuphan','Loma','Garuda','Liberation Sans','DejaVu Sans',sans-serif" font-weight="500" font-size="32.86" fill="#000" stroke="#000" stroke-width="1.58" stroke-linejoin="round" textLength="166.63" lengthAdjust="spacingAndGlyphs">1,837,874</text>
<text x="370.83" y="1188.04" font-family="'Noto Sans Thai','Noto Sans Thai UI','Anuphan','Loma','Garuda','Liberation Sans','DejaVu Sans',sans-serif" font-weight="500" font-size="31.46" fill="#fff" stroke="#fff" stroke-width="1.51" stroke-linejoin="round" textLength="188.06" lengthAdjust="spacingAndGlyphs">50,000,000</text>
<text x="604.45" y="1188.04" font-family="'Noto Sans Thai','Noto Sans Thai UI','Anuphan','Loma','Garuda','Liberation Sans','DejaVu Sans',sans-serif" font-weight="500" font-size="31.46" fill="#fff" stroke="#fff" stroke-width="1.51" stroke-linejoin="round" textLength="188.06" lengthAdjust="spacingAndGlyphs">12,226,845</text>
<text x="850.14" y="1188.04" font-family="'Noto Sans Thai','Noto Sans Thai UI','Anuphan','Loma','Garuda','Liberation Sans','DejaVu Sans',sans-serif" font-weight="500" font-size="31.46" fill="#fff" stroke="#fff" stroke-width="1.51" stroke-linejoin="round" textLength="167.07" lengthAdjust="spacingAndGlyphs">3,642,999</text>
</svg>
</body></html>
